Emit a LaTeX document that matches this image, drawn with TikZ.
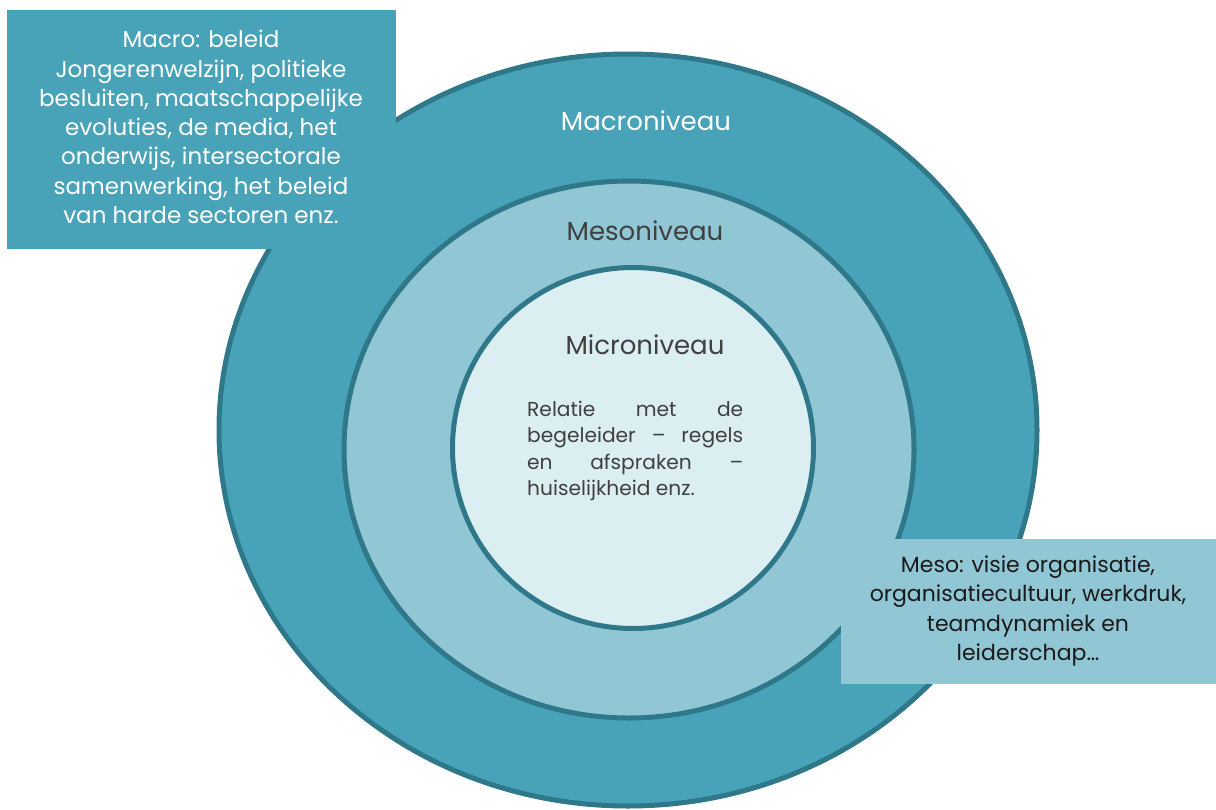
\documentclass[tikz,border=0pt]{standalone}
\usepackage{fontspec}
\setmainfont{Poppins}
\usetikzlibrary{shapes.geometric}
\definecolor{ringline}{HTML}{2E7889}
\definecolor{outerfill}{HTML}{48A3B9}
\definecolor{midfill}{HTML}{91C7D5}
\definecolor{innerfill}{HTML}{DBEEF2}
\definecolor{darktext}{HTML}{404040}
\definecolor{blacktext}{HTML}{1A1A1A}
\tikzset{
  ring/.style={ellipse, draw=ringline, line width=5pt, inner sep=0pt},
  level/.style={font=\fontsize{26}{30}\selectfont},
  boxtext/.style={align=center, inner sep=0pt},
}
\begin{document}
\begin{tikzpicture}[x=1pt,y=-1pt]
\useasboundingbox (0,0) rectangle (1216,809);
\node[ring, fill=outerfill, minimum width=818, minimum height=752] (outer) at (628,430) {};
\node[ring, fill=midfill, minimum width=570, minimum height=537] (middle) at (629,449.5) {};
\node[ring, fill=innerfill, minimum width=361, minimum height=361] (inner) at (633,448) {};
\node[level, text=white] (macrolabel) at (646,121) {Macroniveau};
\node[level, text=darktext] (mesolabel) at (645,231) {Mesoniveau};
\node[level, text=darktext] (microlabel) at (645,345) {Microniveau};
\node[text=darktext, font=\fontsize{20.2}{26.3}\selectfont, inner sep=0pt, anchor=north west, align=left] (microtext) at (527,401)
  {\makebox[216pt][s]{Relatie met de}\\
   \makebox[216pt][s]{begeleider – regels}\\
   \makebox[216pt][s]{en afspraken –}\\
   huiselijkheid enz.};
\node[fill=outerfill, minimum width=389, minimum height=239, anchor=north west, inner sep=0pt] (macrobox) at (7,10) {};
\node[boxtext, text=white, font=\fontsize{23}{29.3}\selectfont] (macrotext) at (201,127)
  {Macro: beleid\\Jongerenwelzijn, politieke\\besluiten, maatschappelijke\\evoluties, de media, het\\onderwijs, intersectorale\\samenwerking, het beleid\\van harde sectoren enz.};
\node[fill=midfill, minimum width=375, minimum height=145, anchor=north west, inner sep=0pt] (mesobox) at (841,539) {};
\node[boxtext, text=blacktext, font=\fontsize{22}{29.3}\selectfont] (mesotext) at (1028,611)
  {Meso: visie organisatie,\\organisatiecultuur, werkdruk,\\teamdynamiek en\\leiderschap…};
\end{tikzpicture}
\end{document}
